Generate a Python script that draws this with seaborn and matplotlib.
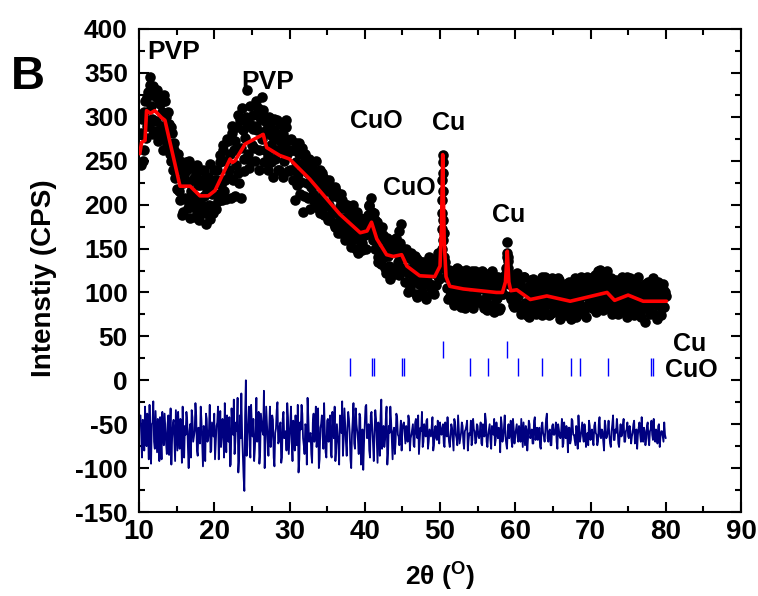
import numpy as np
import pandas as pd
import matplotlib
matplotlib.use("Agg")
import matplotlib.pyplot as plt
from matplotlib.ticker import MultipleLocator
from matplotlib import font_manager
import seaborn as sns

# ---------------- data ----------------
# observed scan, even positions (10.2, 10.4, ... 80.0)
obs_start = 10.2
obs_step = 0.2
obs_y = [
    245, 298, 262, 318, 290, 328, 345, 312, 335, 284, 322, 330, 278, 315, 305, 262, 318, 300, 270, 292, 250, 282, 262, 230, 252,
    258, 205, 240, 192, 232, 248, 205, 226, 185, 242, 210, 196, 236, 222, 182, 228, 200, 238, 190, 215, 232, 184, 222, 198, 240,
    195, 240, 212, 256, 205, 262, 228, 206, 272, 240, 208, 282, 262, 210, 288, 236, 296, 208, 285, 252, 300, 330, 242, 292, 268,
    302, 250, 290, 310, 262, 298, 322, 248, 295, 282, 240, 290, 268, 232, 285, 262, 296, 240, 272, 282, 232, 270, 288, 238, 262,
    275, 228, 262, 270, 222, 258, 212, 265, 192, 250, 240, 208, 252, 220, 245, 204, 238, 230, 196, 240, 205, 232, 188, 225, 215,
    228, 182, 220, 210, 175, 215, 180, 208, 168, 205, 196, 160, 200, 170, 198, 152, 190, 182, 150, 192, 160, 185, 148, 182, 165,
    150, 188, 198, 208, 172, 190, 150, 180, 140, 172, 132, 165, 150, 122, 162, 130, 155, 120, 150, 128, 162, 135, 170, 178, 125,
    148, 112, 140, 122, 105, 145, 118, 132, 98, 138, 110, 128, 100, 135, 112, 96, 130, 140, 105, 125, 98, 138, 120, 145, 132,
    128, 236, 135, 118, 92, 126, 100, 118, 86, 122, 128, 95, 112, 84, 120, 104, 126, 88, 110, 96, 124, 82, 112, 100, 118,
    90, 115, 125, 82, 108, 96, 120, 86, 112, 102, 78, 118, 94, 108, 82, 114, 98, 112, 128, 136, 110, 92, 118, 84, 108,
    122, 86, 110, 76, 104, 118, 82, 100, 72, 108, 90, 115, 78, 100, 84, 112, 96, 74, 108, 118, 88, 102, 76, 110, 92,
    78, 106, 86, 114, 70, 98, 84, 108, 74, 96, 112, 70, 100, 82, 110, 90, 76, 104, 118, 84, 98, 72, 108, 92, 116,
    82, 104, 120, 86, 124, 96, 110, 80, 118, 106, 124, 88, 112, 76, 102, 84, 114, 90, 78, 108, 118, 86, 102, 72, 110,
    116, 84, 100, 74, 112, 92, 106, 78, 98, 88, 66, 104, 112, 80, 96, 108, 76, 100, 86, 112, 92, 74, 104, 84, 96,
]
# observed scan, odd positions (10.3, 10.5, ... 79.9)
mid_start = 10.3
mid_y = [
    282, 250, 305, 276, 322, 290, 336, 298, 280, 326, 295, 272, 318, 290, 282, 325, 276, 268, 305, 258, 288, 240, 270, 248, 218,
    215, 250, 188, 225, 208, 238, 196, 250, 215, 200, 230, 186, 245, 205, 222, 192, 240, 210, 178, 226, 200, 246, 212, 190, 228,
    228, 204, 248, 222, 268, 215, 250, 275, 232, 258, 290, 228, 272, 245, 302, 225, 265, 310, 238, 276, 290, 258, 312, 250, 286,
    265, 318, 285, 240, 300, 275, 308, 262, 285, 255, 300, 248, 278, 298, 252, 276, 240, 292, 262, 280, 250, 296, 258, 274, 240,
    240, 262, 205, 248, 235, 270, 226, 244, 210, 258, 225, 236, 195, 242, 212, 230, 250, 208, 222, 190, 236, 215, 198, 228, 182,
    200, 215, 192, 178, 220, 190, 168, 198, 212, 175, 185, 200, 165, 188, 176, 160, 200, 168, 178, 145, 180, 170, 156, 175, 185,
    168, 200, 180, 192, 160, 182, 165, 135, 160, 145, 175, 140, 128, 158, 142, 115, 148, 160, 125, 145, 150, 120, 156, 140, 150,
    128, 150, 100, 126, 138, 112, 120, 142, 95, 125, 115, 135, 108, 126, 92, 118, 135, 110, 128, 100, 122, 108, 130, 115, 138,
    190, 168, 128, 105, 120, 96, 125, 110, 88, 118, 104, 126, 92, 115, 100, 82, 122, 108, 96, 118, 86, 110, 124, 94, 105,
    112, 88, 104, 122, 94, 80, 110, 100, 124, 86, 106, 92, 118, 80, 104, 98, 115, 120, 140, 128, 96, 112, 86, 120, 98,
    96, 112, 80, 102, 118, 88, 74, 106, 96, 114, 82, 100, 76, 110, 92, 104, 118, 80, 98, 86, 112, 74, 100, 116, 84,
    100, 88, 116, 76, 104, 92, 80, 110, 98, 86, 106, 78, 94, 116, 72, 102, 88, 112, 96, 80, 106, 118, 86, 100, 92,
    110, 92, 78, 114, 100, 126, 88, 106, 96, 120, 82, 102, 116, 94, 84, 110, 98, 76, 104, 92, 112, 80, 96, 118, 88,
    102, 80, 110, 94, 84, 118, 98, 72, 104, 90, 110, 84, 94, 76, 106, 116, 88, 98, 70, 108, 94, 82, 110, 100,
]
# extra observed points on the two sharp Cu peaks
peak_x = [50.22, 50.26, 50.29, 50.32, 50.35, 50.37, 50.40, 50.43, 50.46, 50.50,
          58.85, 58.90, 58.94, 58.98, 59.02]
peak_y = [150, 172, 205, 228, 257, 248, 215, 182, 160, 140,
          125, 145, 157, 140, 120]

# calculated (fitted) profile
calc_x = [10.1, 10.35, 10.8, 11.0, 11.5, 12.1, 13.0, 13.45, 15.45, 16.8, 18.1, 19.2, 20.1,
          22.1, 22.4, 22.76, 24.1, 26.5, 26.97, 28.7, 30.0, 32.7, 36.7, 39.4, 40.3, 40.9,
          41.6, 42.9, 43.8, 44.9, 45.6, 47.3, 49.3, 50.0, 50.2, 50.36, 50.55, 50.8, 51.3,
          53.1, 57.5, 58.3, 58.7, 58.94, 59.15, 59.4, 60.2, 62.0, 64.2, 66.8, 67.3, 71.7,
          72.2, 73.2, 75.0, 77.0, 80.1]
calc_y = [258, 271, 273, 307, 304, 307, 299, 296, 221, 221, 210, 210, 216,
          252, 248, 250, 269, 280, 265, 256, 252, 229, 189, 168, 170, 180,
          161, 143, 141, 143, 130, 119, 118, 130, 175, 257, 160, 118, 107,
          104, 100, 100, 112, 147, 112, 102, 103, 92, 96, 91, 90, 99,
          100, 91, 97, 90, 90]

# difference curve (obs - calc, offset), even positions
diff_y = [
    -40, -88, -52, -30, -75, -60, -28, -95, -48, -70, -35, -82, -55, -42, -90, -62, -38, -72, -50, -85, -32, -66, -45, -92, -58,
    -36, -78, -55, -30, -88, -62, -45, -100, -50, -34, -70, -58, -40, -86, -64, -30, -74, -52, -92, -44, -66, -28, -80, -56, -38,
    -72, -48, -90, -35, -64, -55, -26, -82, -60, -42, -96, -50, -22, -70, -58, -105, -40, -15, -84, -126, 0, -62, -30, -88, -52,
    -44, -78, -20, -66, -95, -38, -58, -12, -72, -50, -86, -30, -64, -45, -98, -55, -25, -70, -48, -88, -36, -60, -80, -42, -68,
    -30, -92, -56, -40, -74, -105, -48, -28, -66, -84, -52, -20, -70, -60, -94, -38, -58, -76, -32, -90, -50, -64, -26, -82, -46,
    -70, -40, -88, -55, -30, -78, -62, -96, -44, -24, -68, -52, -86, -36, -60, -100, -46, -72, -32, -58, -84, -42, -66, -102, -50,
    -28, -64, -80, -40, -56, -92, -34, -70, -48, -86, -22, -60, -76, -44, -96, -52, -30, -68, -58, -84, -38, -62, -74, -46, -56,
    -48, -72, -58, -40, -80, -62, -50, -76, -44, -66, -84, -54, -36, -70, -60, -46, -78, -56, -64, -42, -74, -52, -68, -58, -48,
    -62, -50, -76, -58, -42, -70, -64, -54, -80, -48, -66, -40, -72, -60, -52, -78, -56, -46, -68, -62, -74, -44, -58, -70, -52,
    -66, -48, -74, -56, -38, -70, -62, -50, -78, -58, -44, -68, -60, -54, -82, -50, -64, -40, -72, -58, -66, -46, -76, -56, -62,
    -50, -70, -58, -44, -76, -62, -52, -80, -46, -66, -56, -72, -42, -60, -68, -54, -78, -48, -64, -58, -38, -70, -56, -74, -50,
    -62, -48, -78, -56, -66, -44, -72, -60, -52, -82, -54, -68, -46, -62, -74, -58, -40, -70, -56, -64, -50, -76, -60, -46, -68,
    -56, -74, -48, -62, -70, -42, -66, -58, -80, -52, -64, -46, -72, -58, -40, -68, -60, -54, -76, -50, -62, -44, -70, -56, -64,
    -52, -72, -60, -46, -68, -78, -54, -62, -42, -70, -58, -66, -48, -74, -56, -62, -44, -70, -60, -52, -76, -58, -64, -48, -66,
]
# difference curve, odd positions
diff_mid = [
    -62, -45, -80, -55, -38, -90, -66, -50, -24, -78, -58, -44, -92, -68, -36, -74, -56, -84, -40, -62, -96, -50, -70, -34, -80,
    -60, -44, -94, -66, -52, -36, -76, -58, -88, -42, -64, -26, -80, -54, -72, -46, -98, -60, -38, -70, -56, -82, -48, -64, -90,
    -52, -30, -66, -76, -44, -88, -58, -40, -70, -98, -32, -62, -84, -48, -20, -90, -66, -60, -110, -40, -86, -50, -74, -28, -64,
    -92, -56, -70, -36, -82, -48, -62, -100, -30, -68, -54, -76, -40, -88, -60, -34, -72, -52, -94, -44, -66, -58, -26, -84, -50,
    -70, -46, -80, -64, -28, -90, -56, -38, -74, -50, -96, -42, -62, -84, -48, -70, -30, -66, -100, -54, -40, -78, -60, -88, -44,
    -58, -84, -36, -66, -92, -50, -74, -40, -60, -86, -32, -70, -54, -44, -90, -62, -26, -78, -50, -68, -38, -96, -56, -72, -30,
    -66, -50, -88, -36, -72, -60, -44, -94, -56, -40, -78, -52, -68, -30, -82, -60, -46, -90, -54, -70, -42, -64, -58, -80, -50,
    -60, -52, -70, -46, -66, -56, -74, -48, -62, -40, -68, -58, -76, -50, -64, -44, -70, -60, -52, -80, -56, -66, -46, -72, -60,
    -54, -72, -48, -64, -58, -76, -50, -68, -44, -62, -74, -56, -66, -48, -70, -58, -52, -80, -60, -46, -68, -56, -72, -50, -64,
    -58, -72, -50, -64, -46, -76, -56, -68, -52, -62, -74, -48, -66, -58, -42, -70, -54, -64, -78, -50, -60, -68, -44, -72, -56,
    -64, -52, -70, -60, -48, -74, -56, -66, -50, -62, -72, -46, -68, -54, -64, -76, -52, -60, -70, -44, -66, -58, -74, -52, -62,
    -56, -70, -50, -64, -58, -76, -48, -66, -60, -54, -72, -44, -62, -68, -52, -78, -58, -64, -48, -70, -56, -66, -74, -52, -60,
    -68, -52, -60, -74, -50, -64, -56, -70, -46, -66, -58, -62, -76, -50, -68, -56, -44, -72, -60, -64, -52, -70, -58, -48, -66,
    -58, -64, -50, -72, -56, -62, -48, -70, -60, -54, -74, -52, -66, -58, -46, -68, -62, -56, -72, -50, -64, -58, -70, -62,
]

# reflection positions
cu_pos = [50.44, 58.9]
cuo_pos = [38.04, 41.0, 41.27, 45.0, 45.26, 53.94, 56.38, 60.41, 63.6, 67.45, 68.6, 72.33, 78.04, 78.35]

# ---------------- styling ----------------
sns.set_style("ticks", rc={"axes.edgecolor": "black", "text.color": "black",
                           "xtick.color": "black", "ytick.color": "black",
                           "axes.labelcolor": "black"})
names = {f.name for f in font_manager.fontManager.ttflist}
base = "Liberation Sans" if "Liberation Sans" in names else "DejaVu Sans"
plt.rcParams["font.family"] = [base, "DejaVu Sans"]
plt.rcParams["font.weight"] = "bold"
plt.rcParams["mathtext.fontset"] = "custom"
plt.rcParams["mathtext.rm"] = base + ":bold"
plt.rcParams["mathtext.it"] = base + ":bold"
plt.rcParams["mathtext.bf"] = base + ":bold"

fig = plt.figure(figsize=(7.58, 5.96), dpi=100)
ax = fig.add_axes([139 / 758, 1 - 512 / 596, 602 / 758, 483 / 596])

x_even = np.round(obs_start + obs_step * np.arange(len(obs_y)), 2)
x_odd = np.round(mid_start + obs_step * np.arange(len(mid_y)), 2)

df_obs = pd.DataFrame({"x": np.concatenate([x_even, x_odd, peak_x]),
                       "y": np.concatenate([obs_y, mid_y, peak_y])})
df_calc = pd.DataFrame({"x": calc_x, "y": calc_y})
df_diff = pd.DataFrame({"x": np.concatenate([x_even, x_odd]),
                        "y": np.concatenate([diff_y, diff_mid])}).sort_values("x")

sns.scatterplot(data=df_obs, x="x", y="y", ax=ax, color="black", s=58,
                linewidth=0, zorder=2, legend=False)
sns.lineplot(data=df_calc, x="x", y="y", ax=ax, color="#ff0000", lw=2.6,
             sort=False, estimator=None, zorder=3)
sns.lineplot(data=df_diff, x="x", y="y", ax=ax, color="#000080", lw=1.3,
             sort=False, estimator=None, zorder=2)

ax.vlines(cu_pos, 25, 45, color="#0000ff", lw=1.0)
ax.vlines(cuo_pos, 5, 25, color="#0000ff", lw=1.0)

ax.set_xlim(10, 90)
ax.set_ylim(-150, 400)

# annotations
ann = dict(fontsize=18, fontweight="bold", color="black", ha="left", va="baseline")
ax.text(11.06, 366, "PVP", **{**ann, "fontsize": 19})
ax.text(23.65, 332, "PVP", **{**ann, "fontsize": 19})
ax.text(38.04, 287, "CuO", **ann)
ax.text(48.9, 285, "Cu", **ann)
ax.text(42.47, 211, "CuO", **ann)
ax.text(56.87, 180, "Cu", **ann)
ax.text(81.0, 33, "Cu", **ann)
ax.text(79.9, 3.5, "CuO", **ann)

# ticks
xt = [10, 20, 30, 40, 50, 60, 70, 80, 90]
yt = [-150, -100, -50, 0, 50, 100, 150, 200, 250, 300, 350, 400]
ax.set_xticks(xt)
ax.set_xticklabels([str(v) for v in xt], fontsize=20, fontweight="bold", color="black")
ax.set_yticks(yt)
ax.set_yticklabels([str(v) for v in yt], fontsize=19, fontweight="bold", color="black")
ax.xaxis.set_minor_locator(MultipleLocator(5))
ax.yaxis.set_minor_locator(MultipleLocator(25))
ax.tick_params(which="both", direction="in", top=True, right=True, width=1.5,
               color="black")
ax.tick_params(which="major", length=7)
ax.tick_params(which="minor", length=4)
ax.tick_params(axis="x", which="major", pad=5)
ax.tick_params(axis="y", which="major", pad=8)
for sp in ax.spines.values():
    sp.set_linewidth(1.5)
    sp.set_color("black")
    sp.set_visible(True)

ax.set_xlabel("")
ax.set_ylabel("")
fig.text(440 / 758, 1 - 577 / 596, r"2θ ($^{\mathrm{O}}$)", ha="center", va="center",
         fontsize=19, fontweight="bold", color="black")
fig.text(44 / 758, 1 - 278 / 596, "Intenstiy (CPS)", rotation=90, ha="center",
         va="center", fontsize=20, fontweight="bold", color="black")
fig.text(28 / 758, 1 - 77 / 596, "B", ha="center", va="center", fontsize=34,
         fontweight="bold", color="black")

fig.savefig("out.png", dpi=100)
